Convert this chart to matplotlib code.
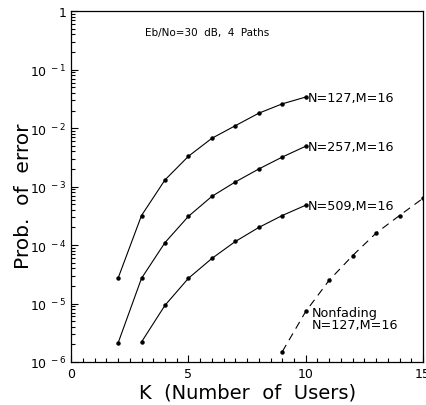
import numpy as np
import matplotlib
matplotlib.use("Agg")
import matplotlib.pyplot as plt
from matplotlib.ticker import FixedLocator, FuncFormatter, MultipleLocator, LogLocator

# ── data ─────────────────────────────────────────────────────────────────────
k_fading = [2, 3, 4, 5, 6, 7, 8, 9, 10]
pe_127 = [2.7e-5, 3.2e-4, 1.3e-3, 3.3e-3, 6.7e-3, 1.1e-2, 1.8e-2, 2.6e-2, 3.4e-2]
pe_257 = [2.1e-6, 2.7e-5, 1.1e-4, 3.1e-4, 6.8e-4, 1.2e-3, 2.0e-3, 3.2e-3, 4.9e-3]

k_509 = [3, 4, 5, 6, 7, 8, 9, 10]
pe_509 = [2.2e-6, 9.3e-6, 2.7e-5, 5.9e-5, 1.15e-4, 2.0e-4, 3.2e-4, 4.8e-4]

k_nonfade = [9, 10, 11, 12, 13, 14, 15]
pe_nonfade = [1.5e-6, 7.3e-6, 2.5e-5, 6.6e-5, 1.6e-4, 3.2e-4, 6.3e-4]

curve_labels = ["N=127,M=16", "N=257,M=16", "N=509,M=16"]

# ── figure ───────────────────────────────────────────────────────────────────
fig = plt.figure(figsize=(4.26, 4.06), dpi=100)
ax = fig.add_axes([0.167, 0.106, 0.826, 0.864])

for ks, ps, lab in zip([k_fading, k_fading, k_509], [pe_127, pe_257, pe_509], curve_labels):
    ax.plot(ks, ps, "-", color="black", lw=0.8, marker="o", ms=2.2)
    ax.text(ks[-1] + 0.08, ps[-1], lab, fontsize=9.2, va="center", ha="left")

ax.plot(k_nonfade, pe_nonfade, color="black", lw=0.8, ls=(0, (7, 5)),
        marker="o", ms=2.2)
ax.text(10.25, 5.6e-6, "Nonfading\nN=127,M=16", fontsize=9.2, va="center",
        ha="left", linespacing=0.9)

ax.text(0.21, 0.955, "Eb/No=30  dB,  4  Paths", transform=ax.transAxes,
        fontsize=7.5, va="top", ha="left")

ax.set_yscale("log")
ax.set_xlim(0, 15)
ax.set_ylim(1e-6, 1)

ax.xaxis.set_major_locator(FixedLocator([0, 5, 10, 15]))
ax.xaxis.set_minor_locator(MultipleLocator(0.5))
ax.yaxis.set_major_locator(FixedLocator([1e-6, 1e-5, 1e-4, 1e-3, 1e-2, 1e-1, 1]))
ax.yaxis.set_minor_locator(LogLocator(base=10, subs=np.arange(2, 10)))


def yfmt(v, pos):
    if v >= 1:
        return "1"
    return r"$10^{\ %d}$" % int(round(np.log10(v)))


ax.yaxis.set_major_formatter(FuncFormatter(yfmt))
ax.yaxis.set_minor_formatter(FuncFormatter(lambda v, p: ""))

ax.tick_params(which="both", direction="in", top=False, right=False,
               labelsize=9, width=0.8)
ax.tick_params(which="major", length=5)
ax.tick_params(which="minor", length=3)
for s in ax.spines.values():
    s.set_linewidth(0.9)

ax.set_xlabel("K  (Number  of  Users)", fontsize=14, labelpad=2)
ax.set_ylabel("Prob.  of  error", fontsize=14.5)
ax.yaxis.set_label_coords(-0.108, 0.475)

fig.savefig("out.png", dpi=100)
